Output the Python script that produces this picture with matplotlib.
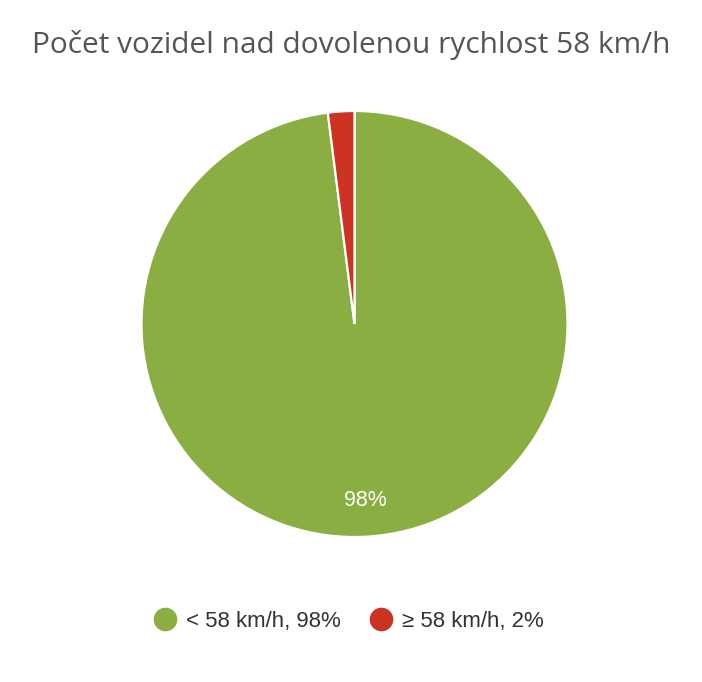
import matplotlib.pyplot as plt
from matplotlib.lines import Line2D

labels = ["< 58 km/h", "≥ 58 km/h"]
shares = [98, 2]
colors = ["#8aae41", "#cc3322"]
title = "Počet vozidel nad dovolenou rychlost 58 km/h"

fig = plt.figure(figsize=(7.02, 6.82), dpi=100)
ax = fig.add_axes([141.5 / 702, (682 - 537) / 682, 426 / 702, 426 / 682])

wedges, texts, autotexts = ax.pie(
    shares, colors=colors, startangle=90, counterclock=False,
    autopct=lambda p: f"{p:.0f}%" if p > 5 else "", pctdistance=0.83,
    wedgeprops=dict(edgecolor="white", linewidth=1.6),
    textprops=dict(color="white", fontsize=15.5, family="Liberation Sans"),
)
ax.set_xlim(-1, 1)
ax.set_ylim(-1, 1)
ax.axis("off")

fig.text(0.5, 1 - 45 / 682, title, ha="center", va="center",
         fontsize=21.5, color="#555555", family="Open Sans")

handles = [Line2D([], [], marker="o", linestyle="", markersize=16,
                  markerfacecolor=c, markeredgecolor=c) for c in colors]
leg_labels = [f"{l}, {s}%" for l, s in zip(labels, shares)]
fig.legend(handles, leg_labels, loc="center", bbox_to_anchor=(349 / 702, 1 - 621 / 682),
           ncol=2, frameon=False, handlelength=1.0, handletextpad=0.45,
           columnspacing=1.3,
           prop=dict(family="Liberation Sans", size=16), labelcolor="#333333")

fig.savefig("out.png", dpi=100)
